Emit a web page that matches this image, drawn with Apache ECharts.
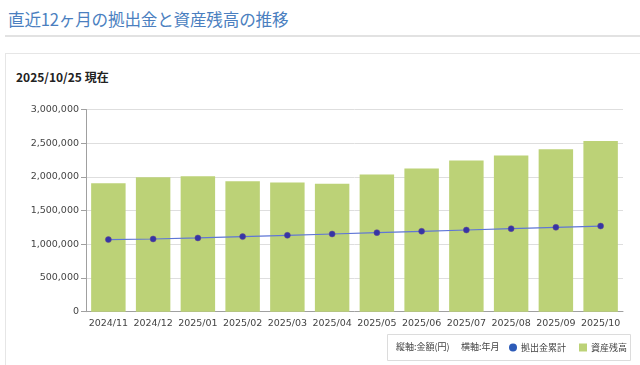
<!DOCTYPE html>
<html><head><meta charset="utf-8">
<script src="https://cdn.jsdelivr.net/npm/echarts@6/dist/echarts.min.js"></script>
<style>
html,body{margin:0;padding:0;background:#fff;width:640px;height:365px;overflow:hidden;font-family:"Noto Sans CJK JP","DejaVu Sans",sans-serif;}
#title{position:absolute;left:8px;top:7px;font-size:16.6px;color:#4b7fbf;white-space:nowrap;letter-spacing:-0.2px;}
#rule{position:absolute;left:5px;top:35px;width:640px;height:2px;background:#e2e2e2;}
#panel{position:absolute;left:5px;top:53px;width:660px;height:330px;border:1px solid #e6e6e6;box-sizing:border-box;}
#date{position:absolute;left:16px;top:68px;font-size:12px;font-weight:bold;color:#222;white-space:nowrap;}
#chart{position:absolute;left:0;top:0;width:640px;height:365px;}
</style></head>
<body>
<div id="title">直近12ヶ月の拠出金と資産残高の推移</div>
<div id="rule"></div>
<div id="panel"></div>
<div id="date">2025/10/25 現在</div>
<div id="chart"></div>
<script>
const categories = ['2024/11','2024/12','2025/01','2025/02','2025/03','2025/04','2025/05','2025/06','2025/07','2025/08','2025/09','2025/10'];
const assetBalance = [1906000,1995000,2010000,1936000,1917000,1897000,2035000,2124000,2242000,2316000,2409000,2533000];
const cumulativeContribution = [1070000,1079000,1094000,1114000,1133000,1153000,1173000,1193000,1212000,1232000,1252000,1271000];
const yTicks = [0,500000,1000000,1500000,2000000,2500000,3000000];
const seriesNames = ['拠出金累計','資産残高'];
const axisNote = ['縦軸:金額(円)','横軸:年月'];

const chart = echarts.init(document.getElementById('chart'), null, {renderer:'canvas'});
chart.setOption({
  animation:false,
  backgroundColor:'transparent',
  grid:{left:86,right:17,top:109.5,bottom:53.3,containLabel:false},
  xAxis:{
    type:'category',data:categories,
    axisLine:{lineStyle:{color:'#a0a0a0',width:1}},
    axisTick:{show:false},
    axisLabel:{color:'#444',fontSize:9.5,fontFamily:'DejaVu Sans',margin:7,interval:0}
  },
  yAxis:{
    type:'value',min:yTicks[0],max:yTicks[yTicks.length-1],interval:500000,
    axisLine:{show:true,lineStyle:{color:'#a0a0a0',width:1}},
    axisTick:{show:true,length:5,lineStyle:{color:'#a0a0a0'}},
    splitLine:{lineStyle:{color:'#dedede'}},
    axisLabel:{color:'#444',fontSize:9.5,fontFamily:'DejaVu Sans',margin:7,
      formatter:v=>v.toLocaleString('en-US')}
  },
  legend:{
    left:509,top:343,width:130,padding:0,itemWidth:8,itemHeight:8,itemGap:13,
    textStyle:{fontSize:9,color:'#444',fontFamily:'Noto Sans CJK JP',padding:[0,0,0,-1]},
    data:[{name:seriesNames[0],icon:'circle',itemStyle:{color:'#2d5bb8',borderWidth:0}},
          {name:seriesNames[1],icon:'rect',itemStyle:{color:'#bcd277',borderWidth:0}}]
  },
  graphic:[
    {type:'rect',shape:{x:387.5,y:334.5,width:243,height:26},style:{fill:'#fff',stroke:'#dcdcdc',lineWidth:1},z:-1},
    {type:'text',left:396,top:342,style:{text:axisNote[0],fontSize:9,fill:'#444',fontFamily:'Noto Sans CJK JP'}},
    {type:'text',left:461,top:342,style:{text:axisNote[1],fontSize:9,fill:'#444',fontFamily:'Noto Sans CJK JP'}}
  ],
  series:[
    {name:seriesNames[1],type:'bar',data:assetBalance,barWidth:'77%',
     itemStyle:{color:'#bcd277'},z:1},
    {name:seriesNames[0],type:'line',data:cumulativeContribution,
     symbol:'circle',symbolSize:6,
     lineStyle:{color:'#5f76d6',width:1.2},
     itemStyle:{color:'#3535a6',borderColor:'#6a4a90',borderWidth:0.5},z:3}
  ]
});
</script>
</body></html>
